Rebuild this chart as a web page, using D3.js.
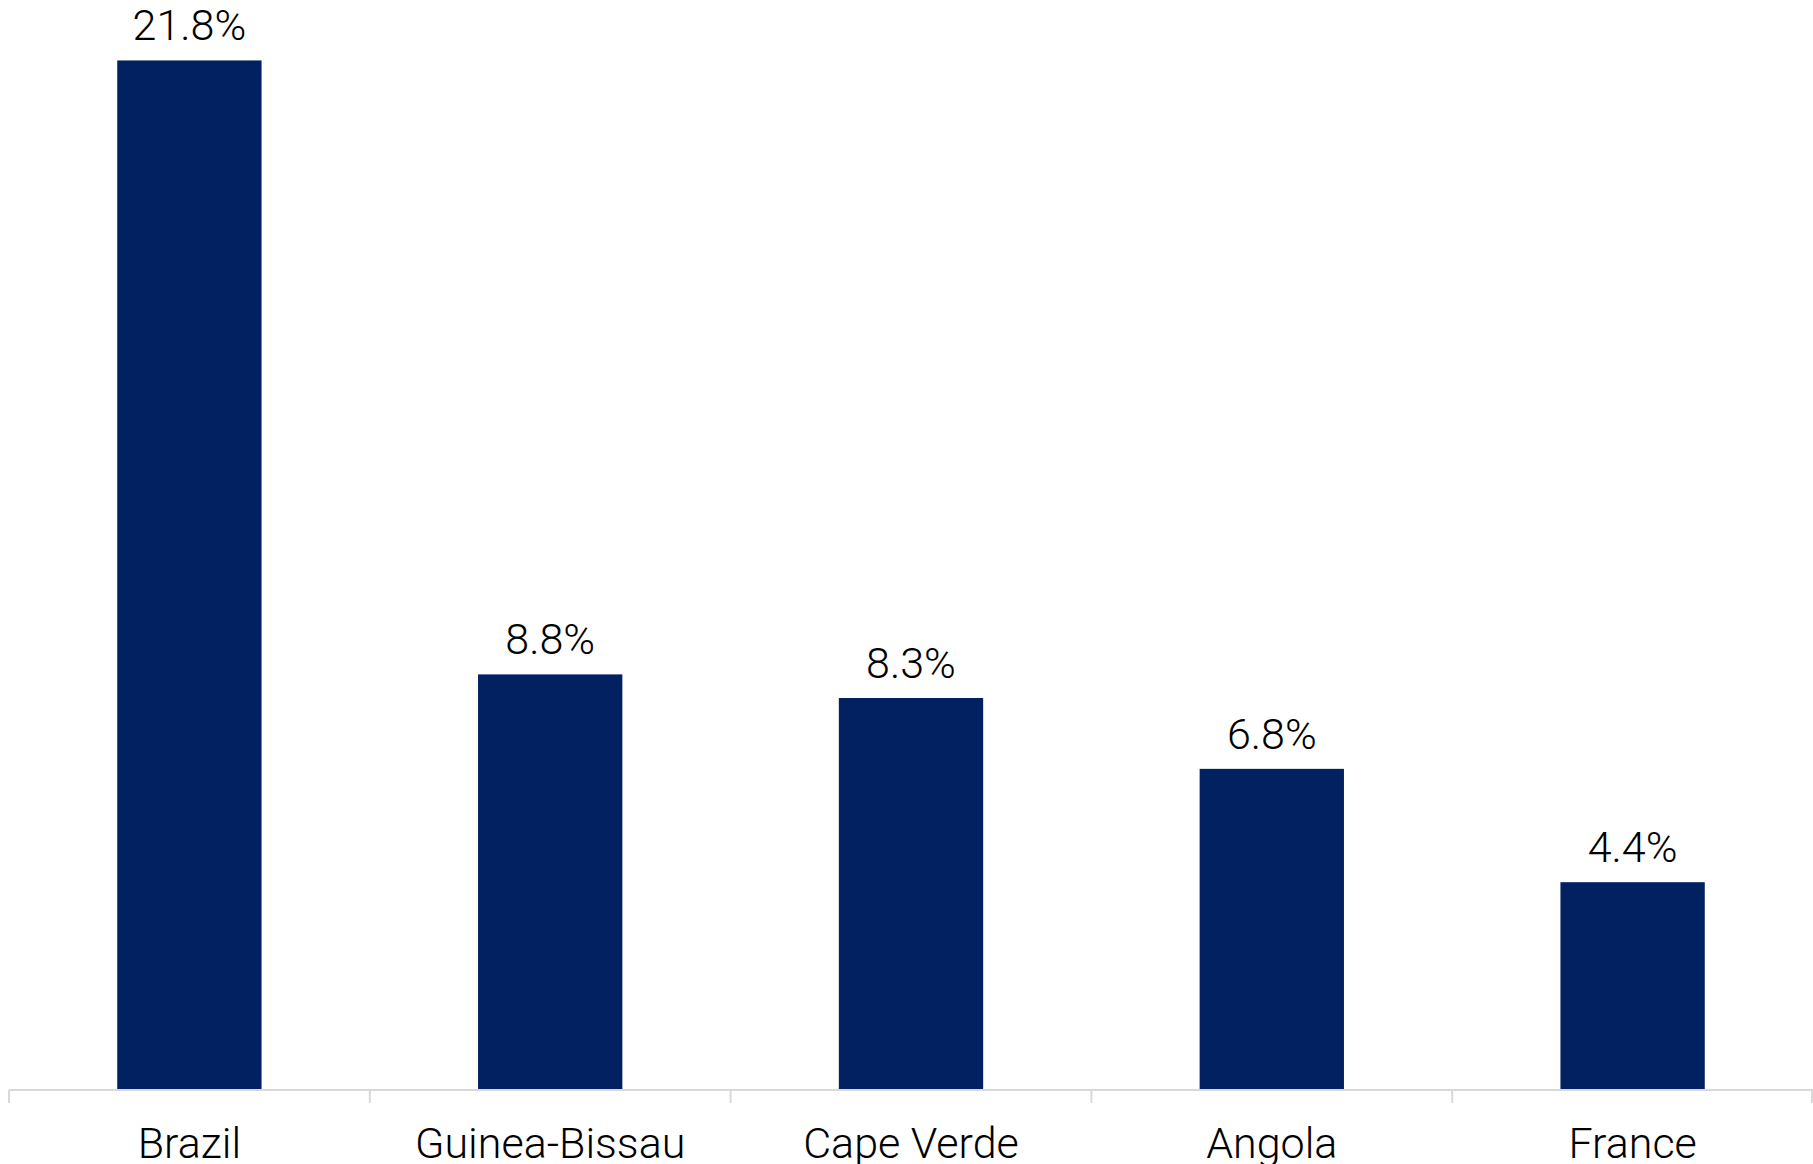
<!DOCTYPE html>
<html>
<head>
<meta charset="utf-8">
<script src="https://cdn.jsdelivr.net/npm/d3@7"></script>
<style>
  html, body { margin: 0; padding: 0; background: #ffffff; }
  svg { display: block; }
  text { font-family: Roboto, "Open Sans", sans-serif; font-weight: 300; fill: #000; }
</style>
</head>
<body>
<svg id="chart" width="1813" height="1164"></svg>
<script>
// Share by country
const countries = ["Brazil", "Guinea-Bissau", "Cape Verde", "Angola", "France"];
const shares = [21.8, 8.8, 8.3, 6.8, 4.4];
const valueLabels = ["21.8%", "8.8%", "8.3%", "6.8%", "4.4%"];

const left = 9, right = 1813, baseY = 1090;

const svg = d3.select("#chart");

const x = d3.scaleBand().domain(countries).range([left, right]).padding(0);
const y = d3.scaleLinear().domain([0, 22]).range([baseY, 51]);

const barFrac = 0.4;
const bw = x.bandwidth() * barFrac;

// Bars
svg.append("g").selectAll("rect")
  .data(countries)
  .join("rect")
  .attr("x", d => x(d) + (x.bandwidth() - bw) / 2)
  .attr("y", (d, i) => y(shares[i]))
  .attr("width", bw)
  .attr("height", (d, i) => y(0) - y(shares[i]))
  .attr("fill", "#022160");

// Value labels above bars
svg.append("g").selectAll("text")
  .data(countries)
  .join("text")
  .attr("x", d => x(d) + x.bandwidth() / 2)
  .attr("y", (d, i) => y(shares[i]) - 20)
  .attr("text-anchor", "middle")
  .attr("font-size", 43)
  .text((d, i) => valueLabels[i]);

// Category axis: baseline plus ticks at band boundaries
const axisG = svg.append("g");
axisG.append("line")
  .attr("x1", left).attr("x2", right)
  .attr("y1", y(0)).attr("y2", y(0))
  .attr("stroke", "#d9d9d9").attr("stroke-width", 2);

const boundaries = countries.map(d => x(d)).concat([right - 1]);
axisG.selectAll("line.tick")
  .data(boundaries)
  .join("line")
  .attr("class", "tick")
  .attr("x1", d => d).attr("x2", d => d)
  .attr("y1", y(0)).attr("y2", y(0) + 13)
  .attr("stroke", "#d9d9d9").attr("stroke-width", 2);

axisG.selectAll("text")
  .data(countries)
  .join("text")
  .attr("x", d => x(d) + x.bandwidth() / 2)
  .attr("y", y(0) + 68)
  .attr("text-anchor", "middle")
  .attr("font-size", 43)
  .text(d => d);
</script>
</body>
</html>
